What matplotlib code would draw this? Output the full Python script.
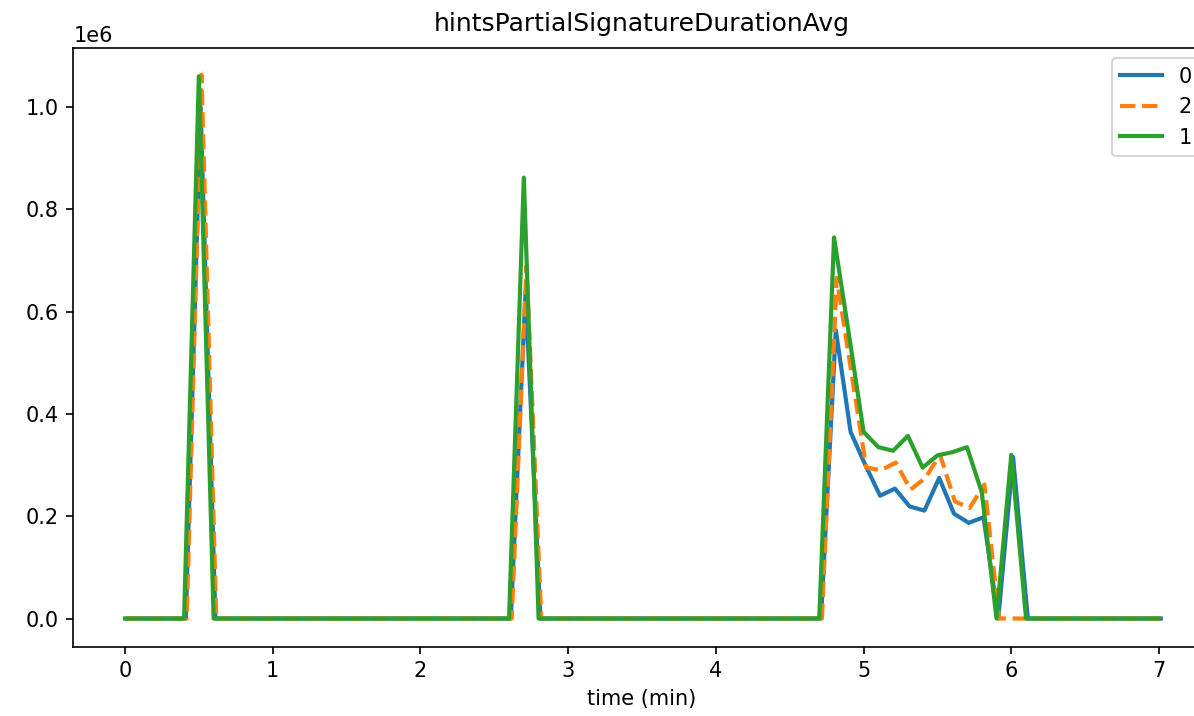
import numpy as np
import matplotlib
matplotlib.use("Agg")
import matplotlib.pyplot as plt

# time grid (minutes), 0.1 min sampling
time_min = [round(i * 0.1, 1) for i in range(71)]
offsets = {"0": 0.012, "2": 0.018, "1": 0.0}

# values (x1e6)
series_0 = ([0.0] * 5 + [1.00] + [0.0] * 21 + [0.64] + [0.0] * 20 +
            [0.564, 0.365, 0.300, 0.240, 0.254, 0.219, 0.211, 0.275, 0.205, 0.187, 0.198, 0.0, 0.316] +
            [0.0] * 10)
series_2 = ([0.0] * 5 + [1.063] + [0.0] * 21 + [0.69] + [0.0] * 20 +
            [0.666, 0.480, 0.295, 0.290, 0.305, 0.252, 0.275, 0.320, 0.229, 0.216, 0.262, 0.0, 0.0] +
            [0.0] * 10)
series_1 = ([0.0] * 5 + [1.060] + [0.0] * 21 + [0.862] + [0.0] * 20 +
            [0.745, 0.557, 0.365, 0.335, 0.328, 0.357, 0.295, 0.319, 0.325, 0.335, 0.247, 0.0, 0.320] +
            [0.0] * 10)

labels = ["0", "2", "1"]
values = [series_0, series_2, series_1]
colors = ["#1f77b4", "#ff7f0e", "#2ca02c"]
styles = ["-", "--", "-"]

fig = plt.figure(figsize=(1194 / 150, 716 / 150), dpi=150)
ax = fig.add_axes([73.3 / 1194, 1 - 646.5 / 716, 1137.4 / 1194, (646.5 - 48) / 716])

for lab, vals, c, ls in zip(labels, values, colors, styles):
    t = np.array(time_min) + offsets[lab]
    ax.plot(t, np.array(vals) * 1e6, color=c, linestyle=ls, linewidth=2, label=lab)

ax.set_xlim(-0.35, 7.35)
ax.set_ylim(-0.0547e6, 1.1153e6)
ax.set_xticks(range(8))
ax.set_title("hintsPartialSignatureDurationAvg", fontsize=12, pad=8)
ax.set_xlabel("time (min)")
ax.legend(loc="upper right")

fig.savefig("out.png", dpi=150)
